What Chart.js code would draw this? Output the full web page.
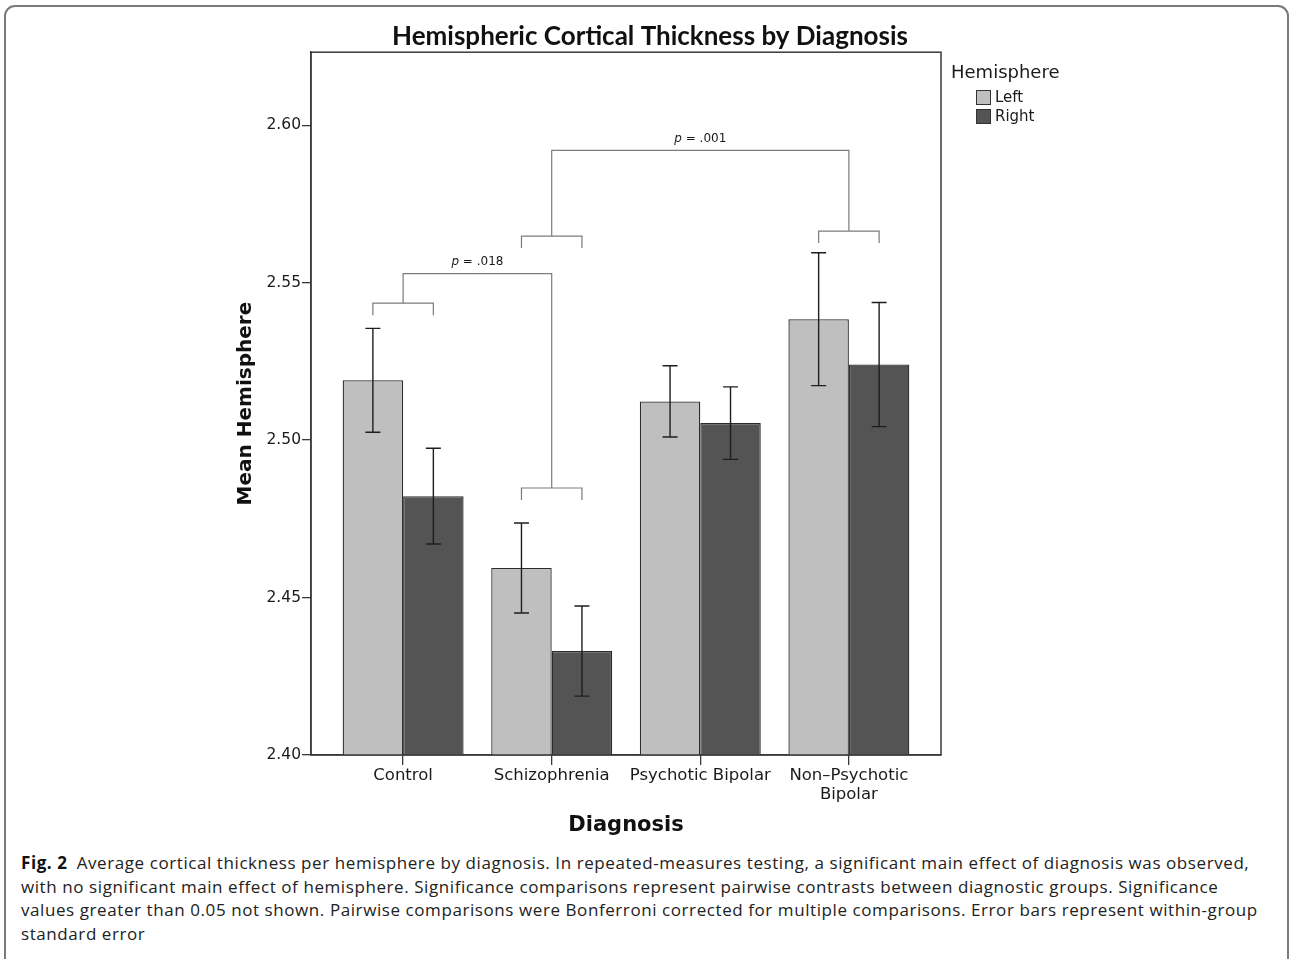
<!DOCTYPE html>
<html>
<head>
<meta charset="utf-8">
<title>Hemispheric Cortical Thickness by Diagnosis</title>
<script src="https://cdn.jsdelivr.net/npm/chart.js@4.4.1/dist/chart.umd.min.js"></script>
<style>
  html, body { margin: 0; padding: 0; background: #fff; }
  body { width: 1290px; height: 959px; position: relative; overflow: hidden; }
  .frame { position: absolute; left: 4px; top: 5px; width: 1285px; height: 1000px; box-sizing: border-box; border: 2px solid #7a7a7a; border-radius: 11px; }
  #chart { position: absolute; left: 0; top: 0; }
  .caption { position: absolute; left: 21px; top: 851px; font: 17px/23.7px "Open Sans", sans-serif; letter-spacing: 0.58px; color: #222; white-space: nowrap; }
  .caption b { color: #111; }
</style>
</head>
<body>
<div class="frame"></div>
<canvas id="chart" width="1290" height="845"></canvas>
<div class="caption">
  <b>Fig. 2</b>&ensp;Average cortical thickness per hemisphere by diagnosis. In repeated-measures testing, a significant main effect of diagnosis was observed,<br>
  with no significant main effect of hemisphere. Significance comparisons represent pairwise contrasts between diagnostic groups. Significance<br>
  values greater than 0.05 not shown. Pairwise comparisons were Bonferroni corrected for multiple comparisons. Error bars represent within-group<br>
  standard error
</div>
<script>
// values
const categories = ['Control', 'Schizophrenia', 'Psychotic Bipolar', ['Non–Psychotic', 'Bipolar']];
const leftMeans = [2.5190, 2.4594, 2.5123, 2.5384];
const leftSE = [0.0165, 0.0143, 0.0113, 0.0211];
const rightMeans = [2.4822, 2.4330, 2.5054, 2.5240];
const rightSE = [0.0152, 0.0143, 0.0115, 0.0197];
const yTicks = [2.40, 2.45, 2.50, 2.55, 2.60];

// significance brackets (group spanned + level) and the links joining them
const brackets = [
  { group: 0, level: 2.5435 },
  { group: 1, level: 2.4848 },
  { group: 1, level: 2.5648 },
  { group: 3, level: 2.5664 },
];
const links = [
  { from: 0, to: 1, level: 2.5529, p: '.018' },
  { from: 2, to: 3, level: 2.5920, p: '.001' },
];

const AXIS = '#3a3a3a';
const TEXT = '#1a1a1a';

const errorBars = {
  id: 'errorBars',
  afterDatasetsDraw(chart) {
    const ctx = chart.ctx, y = chart.scales.y;
    ctx.save();
    ctx.strokeStyle = '#1e1e1e';
    ctx.lineWidth = 1.4;
    chart.data.datasets.forEach((ds, d) => {
      chart.getDatasetMeta(d).data.forEach((bar, i) => {
        const v = ds.data[i].y, e = ds.errors[i];
        const top = y.getPixelForValue(v + e), bot = y.getPixelForValue(v - e);
        ctx.beginPath();
        ctx.moveTo(bar.x, top); ctx.lineTo(bar.x, bot);
        ctx.moveTo(bar.x - 7.5, top); ctx.lineTo(bar.x + 7.5, top);
        ctx.moveTo(bar.x - 7.5, bot); ctx.lineTo(bar.x + 7.5, bot);
        ctx.stroke();
      });
    });
    ctx.restore();
  }
};

const sigBrackets = {
  id: 'sigBrackets',
  afterDatasetsDraw(chart) {
    const ctx = chart.ctx, x = chart.scales.x, y = chart.scales.y;
    const m0 = chart.getDatasetMeta(0), m1 = chart.getDatasetMeta(1);
    ctx.save();
    ctx.strokeStyle = '#7c7c7c';
    ctx.lineWidth = 1.2;
    brackets.forEach(b => {
      const x1 = m0.data[b.group].x, x2 = m1.data[b.group].x, yy = y.getPixelForValue(b.level);
      ctx.beginPath();
      ctx.moveTo(x1, yy + 12); ctx.lineTo(x1, yy); ctx.lineTo(x2, yy); ctx.lineTo(x2, yy + 12);
      ctx.stroke();
    });
    links.forEach(l => {
      const a = brackets[l.from], b = brackets[l.to];
      const xa = x.getPixelForValue(a.group), xb = x.getPixelForValue(b.group);
      const yl = y.getPixelForValue(l.level);
      ctx.beginPath();
      ctx.moveTo(xa, y.getPixelForValue(a.level)); ctx.lineTo(xa, yl);
      ctx.lineTo(xb, yl); ctx.lineTo(xb, y.getPixelForValue(b.level));
      ctx.stroke();

      // label: italic p, then the value
      const rest = ' = ' + l.p;
      ctx.fillStyle = TEXT;
      ctx.textBaseline = 'alphabetic';
      ctx.font = 'italic 12px "DejaVu Sans"';
      const wp = ctx.measureText('p').width;
      ctx.font = '12px "DejaVu Sans"';
      const wr = ctx.measureText(rest).width;
      const sx = (xa + xb) / 2 - (wp + wr) / 2;
      ctx.font = 'italic 12px "DejaVu Sans"';
      ctx.fillText('p', sx, yl - 8.5);
      ctx.font = '12px "DejaVu Sans"';
      ctx.fillText(rest, sx + wp, yl - 8.5);
    });
    ctx.restore();
  }
};

// plot frame + legend on the right
const frameLegend = {
  id: 'frameLegend',
  afterDraw(chart) {
    const ctx = chart.ctx, a = chart.chartArea;
    ctx.save();
    ctx.strokeStyle = AXIS;
    ctx.lineWidth = 1.5;
    ctx.strokeRect(a.left, a.top, a.right - a.left, a.bottom - a.top);

    const lx = a.right + 10;
    ctx.fillStyle = TEXT;
    ctx.textBaseline = 'middle';
    ctx.font = '18px "DejaVu Sans"';
    ctx.fillText('Hemisphere', lx, 73);
    ctx.font = '15px "DejaVu Sans"';
    chart.data.datasets.forEach((ds, i) => {
      const by = 90 + i * 19;
      ctx.fillStyle = ds.backgroundColor;
      ctx.fillRect(lx + 25, by, 15, 15);
      ctx.strokeStyle = '#333';
      ctx.lineWidth = 1;
      ctx.strokeRect(lx + 25.5, by + 0.5, 14, 14);
      ctx.fillStyle = TEXT;
      ctx.fillText(ds.label, lx + 44, by + 8);
    });
    ctx.restore();
  }
};

new Chart(document.getElementById('chart'), {
  type: 'bar',
  data: {
    datasets: [
      { label: 'Left', data: leftMeans.map((v, i) => ({ x: i, y: v })), errors: leftSE,
        backgroundColor: '#bfbfbf', borderColor: '#2b2b2b', borderWidth: 1.3 },
      { label: 'Right', data: rightMeans.map((v, i) => ({ x: i, y: v })), errors: rightSE,
        backgroundColor: '#545454', borderColor: '#2b2b2b', borderWidth: 1.3 },
    ],
  },
  options: {
    responsive: false,
    animation: false,
    layout: { padding: { left: 10, right: 0, top: 0, bottom: 0 } },
    datasets: { bar: { categoryPercentage: 0.814, barPercentage: 1 } },
    plugins: {
      legend: { display: false },
      tooltip: { enabled: false },
      title: {
        display: true,
        text: 'Hemispheric Cortical Thickness by Diagnosis',
        color: '#111',
        font: { family: 'Lato', size: 26, weight: 'bold' },
        padding: { top: 21, bottom: 0 },
      },
    },
    scales: {
      x: {
        type: 'linear',
        min: -0.62,
        max: 3.62,
        offset: false,
        afterBuildTicks: s => { s.ticks = categories.map((c, i) => ({ value: i })); },
        afterFit: s => { s.height = 90; },
        grid: { drawOnChartArea: false, offset: false, tickLength: 10, color: AXIS, lineWidth: 1.3 },
        border: { color: AXIS, width: 1.5 },
        ticks: {
          callback: v => categories[v],
          color: TEXT,
          padding: 2,
          maxRotation: 0,
          autoSkip: false,
          font: { family: 'DejaVu Sans', size: 16.5, lineHeight: 1.1 },
        },
        title: {
          display: true,
          text: 'Diagnosis',
          color: '#111',
          font: { family: 'DejaVu Sans', size: 21, weight: 'bold' },
          padding: { top: 0, bottom: 7 },
        },
      },
      y: {
        min: 2.40,
        max: 2.6232,
        afterBuildTicks: s => { s.ticks = yTicks.map(v => ({ value: v })); },
        afterFit: s => { s.width = 301; },
        grid: { drawOnChartArea: false, tickLength: 9, color: AXIS, lineWidth: 1.3 },
        border: { color: AXIS, width: 1.5 },
        ticks: {
          callback: v => v.toFixed(2),
          color: TEXT,
          padding: 1,
          font: { family: 'DejaVu Sans', size: 15.5 },
        },
        title: {
          display: true,
          text: 'Mean Hemisphere',
          color: '#111',
          font: { family: 'DejaVu Sans', size: 20, weight: 'bold' },
          padding: { top: 224, bottom: 0 },
        },
      },
      // empty space on the right that holds the legend
      legendSpace: {
        type: 'linear',
        position: 'right',
        afterFit: s => { s.width = 349; },
        grid: { display: false },
        border: { display: false },
        ticks: { display: false },
      },
    },
  },
  plugins: [errorBars, sigBrackets, frameLegend],
});
</script>
</body>
</html>
